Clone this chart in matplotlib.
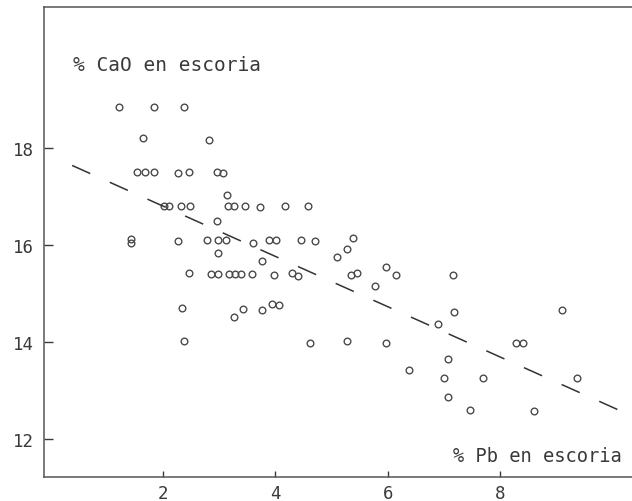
import numpy as np
import matplotlib
matplotlib.use('Agg')
import matplotlib.pyplot as plt

# % Pb en escoria (x) and % CaO en escoria (y)
pb = [1.23, 1.84, 2.37,
      1.65, 2.83,
      1.55, 1.69, 1.85, 2.27, 2.47, 2.97, 3.07,
      3.15,
      2.02, 2.12, 2.33, 2.49, 3.16, 3.26, 3.46, 3.73, 4.18, 4.58,
      2.97,
      1.43, 1.43, 2.28, 2.79, 2.98, 3.12, 3.60, 3.89, 4.02, 4.45, 4.70, 5.39,
      5.28, 2.98, 5.10, 3.76, 5.96,
      2.46, 2.85, 2.98, 3.17, 3.28, 3.40, 3.59, 3.97, 4.29, 4.40, 5.34, 5.46, 6.15, 7.16,
      5.78,
      3.95, 4.07,
      2.34, 3.42, 3.77, 7.17, 9.10,
      3.26,
      6.89,
      2.37, 5.27, 4.61, 5.97, 8.28, 8.40,
      7.07, 6.37, 7.00, 7.70, 9.37, 7.07, 7.46, 8.60]

cao = [18.85, 18.85, 18.85,
       18.20, 18.17,
       17.50, 17.50, 17.50, 17.48, 17.50, 17.50, 17.48,
       17.04,
       16.80, 16.80, 16.80, 16.80, 16.80, 16.80, 16.80, 16.78, 16.80, 16.80,
       16.50,
       16.13, 16.04, 16.08, 16.10, 16.10, 16.10, 16.05, 16.10, 16.10, 16.10, 16.08, 16.14,
       15.91, 15.83, 15.76, 15.68, 15.55,
       15.42, 15.41, 15.41, 15.41, 15.41, 15.41, 15.41, 15.38, 15.42, 15.37, 15.38, 15.42, 15.38, 15.38,
       15.15,
       14.78, 14.76,
       14.70, 14.68, 14.66, 14.62, 14.66,
       14.52,
       14.37,
       14.02, 14.02, 13.97, 13.97, 13.97, 13.97,
       13.65, 13.43, 13.26, 13.26, 13.26, 12.87, 12.60, 12.58]

# fitted line drawn dashed in the original
fit_x = [0.39, 10.10]
fit_y = [17.64, 12.60]

x_ticks = [2, 4, 6, 8]
y_ticks = [12, 14, 16, 18]

font = 'DejaVu Sans Mono'
ink = '#3a3a3a'

fig = plt.figure(figsize=(6.32, 5.02), dpi=100)
ax = fig.add_axes([0.0696, 0.048, 0.9304, 0.9355])

# scatter of the samples
ax.plot(pb, cao, linestyle='none', marker='o', markersize=4.8,
        markerfacecolor='none', markeredgecolor='#4a4a4a', markeredgewidth=1.0)

# dashed regression line
line, = ax.plot(fit_x, fit_y, color='#333333', linewidth=1.1)
line.set_dashes((13, 14))

ax.set_xlim(-0.11, 10.34)
ax.set_ylim(11.22, 20.9)
ax.set_xticks(x_ticks)
ax.set_yticks(y_ticks)
ax.tick_params(axis='y', direction='in', length=6.5, width=1.0, pad=7, colors=ink)
ax.tick_params(axis='x', direction='in', length=4.5, width=1.0, pad=5, colors=ink)
for lab in ax.get_xticklabels() + ax.get_yticklabels():
    lab.set_fontfamily(font)
    lab.set_fontsize(12.5)

for side in ['left', 'bottom', 'top']:
    ax.spines[side].set_color('#555555')
    ax.spines[side].set_linewidth(1.1)
ax.spines['right'].set_visible(False)

# axis captions inside the frame
ax.text(0.40, 19.73, '% CaO en escoria', fontsize=14, family=font,
        color=ink, va='center')
ax.text(10.16, 11.67, '% Pb en escoria', fontsize=13.5, family=font,
        color=ink, va='center', ha='right')

plt.savefig('out.png', dpi=100)
